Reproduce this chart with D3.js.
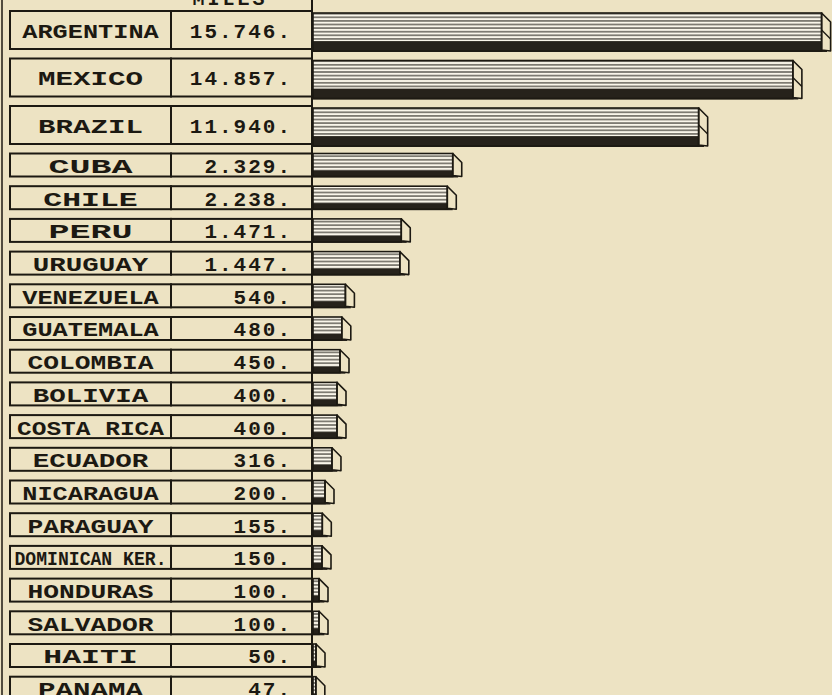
<!DOCTYPE html>
<html>
<head>
<meta charset="utf-8">
<script src="https://cdn.jsdelivr.net/npm/d3@7"></script>
<style>
  body { margin: 0; background: #ede3c3; }
  svg { display: block; }
</style>
</head>
<body>
<div id="chart-area"></div>
<script>
// railway miles by country
var countries = ["ARGENTINA", "MEXICO", "BRAZIL", "CUBA", "CHILE", "PERU", "URUGUAY",
  "VENEZUELA", "GUATEMALA", "COLOMBIA", "BOLIVIA", "COSTA RICA", "ECUADOR", "NICARAGUA",
  "PARAGUAY", "DOMINICAN KER.", "HONDURAS", "SALVADOR", "HAITI", "PANAMA"];
var miles = [15746, 14857, 11940, 2329, 2238, 1471, 1447, 540, 480, 450, 400, 400, 316,
  200, 155, 150, 100, 100, 50, 47];
var unitLabel = "MILES";

var width = 832, height = 695;
var ink = "#1c1912", paper = "#ede3c3";

var data = countries.map(function(c, i) {
  return { name: c, value: miles[i], big: miles[i] > 10000 };
});

// row layout: the three big ones are drawn double height
var top0 = 11;
data.forEach(function(d) {
  d.h = d.big ? 38 : 23;
  d.y = top0;
  top0 += d.big ? 47.5 : 32.7;
});

// bars are scaled by area, so thick bars use a shorter scale
var xSmall = d3.scaleLinear().domain([0, 1000]).range([0, 60]);
var xBig = d3.scaleLinear().domain([0, 1000]).range([0, 32.3]);

var axisX = 312;
var nameX0 = 10, nameX1 = 171;

var svg = d3.select("#chart-area")
  .append("svg")
    .attr("width", width)
    .attr("height", height);

svg.append("rect").attr("width", width).attr("height", height).attr("fill", paper);

// stripe fill for bar fronts
var defs = svg.append("defs");
var pat = defs.append("pattern")
  .attr("id", "stripes")
  .attr("patternUnits", "userSpaceOnUse")
  .attr("width", 8).attr("height", 3.6);
pat.append("rect").attr("width", 8).attr("height", 3.6).attr("fill", "#faf6ea");
pat.append("rect").attr("y", 2.2).attr("width", 8).attr("height", 1).attr("fill", ink);

// full height rules
svg.append("line").attr("x1", 2).attr("x2", 2).attr("y1", 0).attr("y2", height)
  .attr("stroke", ink).attr("stroke-width", 1.5);
svg.append("line").attr("x1", axisX).attr("x2", axisX).attr("y1", 0).attr("y2", height)
  .attr("stroke", ink).attr("stroke-width", 2);

// header
svg.append("text")
  .attr("x", 230).attr("y", 5)
  .attr("text-anchor", "middle")
  .attr("font-family", "Liberation Mono")
  .attr("font-weight", "bold")
  .attr("font-size", 20)
  .attr("letter-spacing", 3)
  .attr("fill", ink)
  .text(unitLabel);

var rows = svg.selectAll("g.row").data(data).enter()
  .append("g").attr("class", "row")
  .attr("transform", function(d) { return "translate(0," + d.y + ")"; });

// name + value boxes
rows.append("rect")
  .attr("x", nameX0).attr("y", 0)
  .attr("width", nameX1 - nameX0).attr("height", function(d) { return d.h; })
  .attr("fill", "none").attr("stroke", ink).attr("stroke-width", 2);
rows.append("rect")
  .attr("x", nameX1).attr("y", 0)
  .attr("width", axisX - nameX1).attr("height", function(d) { return d.h; })
  .attr("fill", "none").attr("stroke", ink).attr("stroke-width", 2);

rows.append("text")
  .attr("x", (nameX0 + nameX1) / 2)
  .attr("y", function(d) { return d.h / 2; })
  .attr("dy", "0.38em")
  .attr("text-anchor", "middle")
  .attr("font-family", "Liberation Mono")
  .attr("font-weight", "bold")
  .attr("font-size", 21)
  .attr("fill", ink)
  .attr("textLength", function(d) { return Math.min(152, 42 + 10.5 * d.name.length); })
  .attr("lengthAdjust", "spacingAndGlyphs")
  .text(function(d) { return d.name; });

var fmt = function(v) { return d3.format(",")(v).replace(/,/g, ".") + "."; };
rows.append("text")
  .attr("x", 292)
  .attr("y", function(d) { return d.h / 2; })
  .attr("dy", "0.38em")
  .attr("text-anchor", "end")
  .attr("font-family", "Liberation Mono")
  .attr("font-weight", "bold")
  .attr("font-size", 21)
  .attr("letter-spacing", 2)
  .attr("fill", ink)
  .text(function(d) { return fmt(d.value); });

// bars
var bars = rows.append("g").attr("transform", "translate(" + (axisX + 1) + ",0)");

function bw(d) { return d.big ? xBig(d.value) : xSmall(d.value); }
var depth = 9;

bars.append("rect")
  .attr("x", 0).attr("y", function(d) { return d.big ? 2 : 0; })
  .attr("width", bw).attr("height", function(d) { return d.h; })
  .attr("fill", "url(#stripes)");

// dark lower band
bars.append("rect")
  .attr("x", 0)
  .attr("y", function(d) { return (d.big ? 2 : 0) + d.h * 0.74; })
  .attr("width", function(d) { return bw(d) + depth * 0.6; })
  .attr("height", function(d) { return d.h * 0.26 + 1; })
  .attr("fill", "#26221b");

// end face
bars.append("path")
  .attr("d", function(d) {
    var w = bw(d), t = d.big ? 2 : 0, b = t + d.h;
    return "M" + w + "," + t + "L" + (w + depth) + "," + (t + depth) +
      "L" + (w + depth) + "," + (b) + "L" + w + "," + (b - 1) + "Z";
  })
  .attr("fill", paper).attr("stroke", ink).attr("stroke-width", 1.6)
  .attr("stroke-linejoin", "round");

// middle crease on thick bars
bars.filter(function(d) { return d.big; }).append("line")
  .attr("x1", bw).attr("y1", function(d) { return 2 + d.h * 0.45; })
  .attr("x2", function(d) { return bw(d) + depth; })
  .attr("y2", function(d) { return 2 + d.h * 0.45 + depth; })
  .attr("stroke", ink).attr("stroke-width", 1.4);

// outline of front face
bars.append("rect")
  .attr("x", 0).attr("y", function(d) { return d.big ? 2 : 0; })
  .attr("width", bw).attr("height", function(d) { return d.h; })
  .attr("fill", "none").attr("stroke", ink).attr("stroke-width", 1.6);
</script>
</body>
</html>
